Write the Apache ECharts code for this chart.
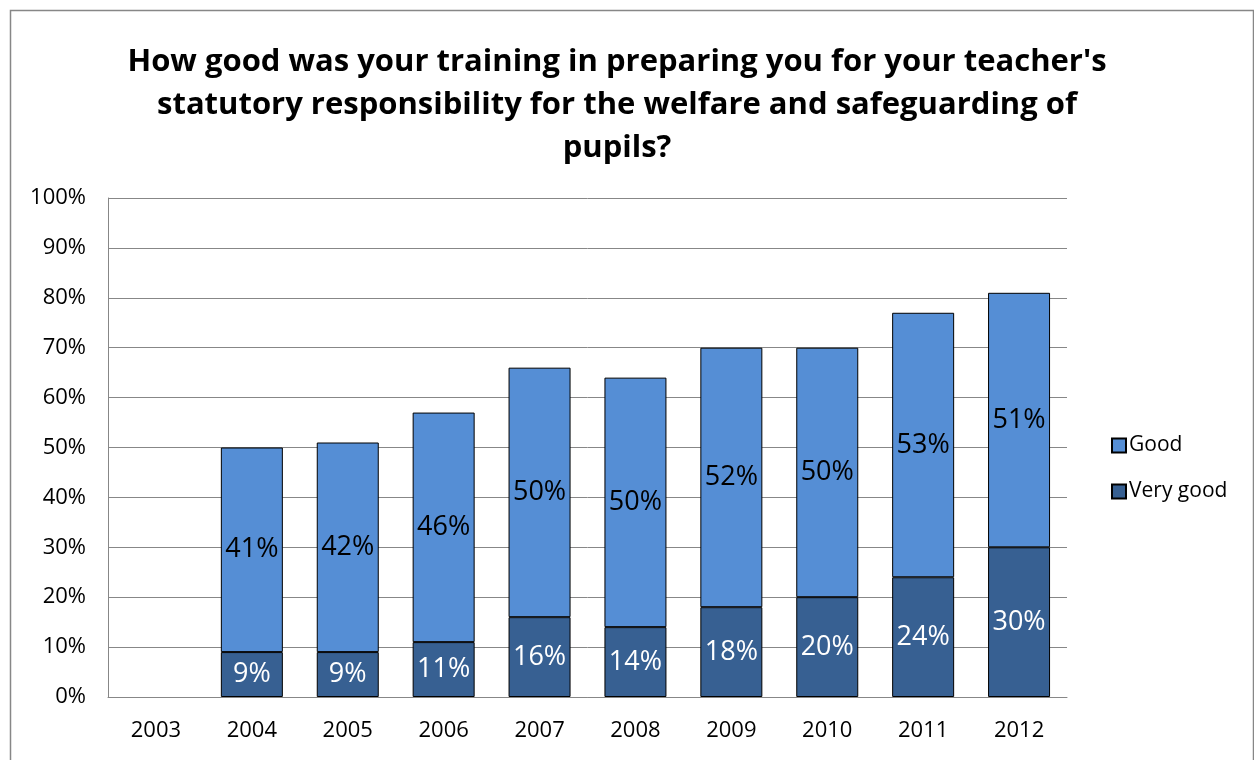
<!DOCTYPE html>
<html>
<head>
<meta charset="utf-8">
<script src="https://cdn.jsdelivr.net/npm/echarts@6/dist/echarts.min.js"></script>
<style>
html,body{margin:0;padding:0;background:#fff;}
#c{width:1254px;height:760px;}
</style>
</head>
<body>
<div id="c"></div>
<script>
const categories = ['2003','2004','2005','2006','2007','2008','2009','2010','2011','2012'];
const veryGood = [null, 9, 9, 11, 16, 14, 18, 20, 24, 30];
const good = [null, 41, 42, 46, 50, 50, 52, 50, 53, 51];
const titleText = "How good was your training in preparing you for your teacher's\nstatutory responsibility for the welfare and safeguarding of\npupils?";

const FONT = '"Open Sans", Lato, sans-serif';
const chart = echarts.init(document.getElementById('c'), null, {renderer: 'canvas'});
chart.setOption({
  backgroundColor: '#fff',
  animation: false,
  graphic: [{
    type: 'rect', left: 8, top: 8, silent: true,
    shape: {x: 0, y: 0, width: 1243, height: 780},
    style: {fill: 'none', stroke: '#878787', lineWidth: 1.5}
  }],
  title: {
    text: titleText,
    left: 612, top: 36, textAlign: 'center',
    textStyle: {fontFamily: FONT, fontWeight: 'bold', fontSize: 31, lineHeight: 43, color: '#000'}
  },
  legend: {
    data: ['Good', 'Very good'],
    orient: 'vertical', left: 1106, top: 430,
    itemWidth: 14, itemHeight: 14, itemGap: 25,
    icon: 'rect',
    textStyle: {fontFamily: FONT, fontSize: 21, color: '#000', padding: [0,0,0,-2]}
  },
  grid: {left: 108, right: 187, top: 198, bottom: 63},
  xAxis: {
    type: 'category', data: categories,
    axisLine: {lineStyle: {color: '#878787', width: 1}},
    axisTick: {show: false},
    axisLabel: {fontFamily: FONT, fontSize: 22, color: '#000', margin: 23}
  },
  yAxis: {
    type: 'value', min: 0, max: 100, interval: 10,
    axisLine: {show: true, lineStyle: {color: '#878787'}},
    axisTick: {show: false},
    splitLine: {lineStyle: {color: '#878787', width: 1}},
    axisLabel: {formatter: '{value}%', fontFamily: FONT, fontSize: 22, color: '#000', margin: 22}
  },
  series: [{
    name: 'Very good', type: 'bar', stack: 's', data: veryGood,
    barWidth: 62,
    itemStyle: {color: '#376092', borderColor: '#000', borderWidth: 1},
    label: {show: true, position: 'inside', formatter: p => p.value + '%', fontFamily: FONT, fontSize: 27, color: '#fff'}
  }, {
    name: 'Good', type: 'bar', stack: 's', data: good,
    barWidth: 62,
    itemStyle: {color: '#558ED5', borderColor: '#000', borderWidth: 1},
    label: {show: true, position: 'inside', formatter: p => p.value + '%', fontFamily: FONT, fontSize: 27, color: '#000'}
  }]
});
</script>
</body>
</html>
